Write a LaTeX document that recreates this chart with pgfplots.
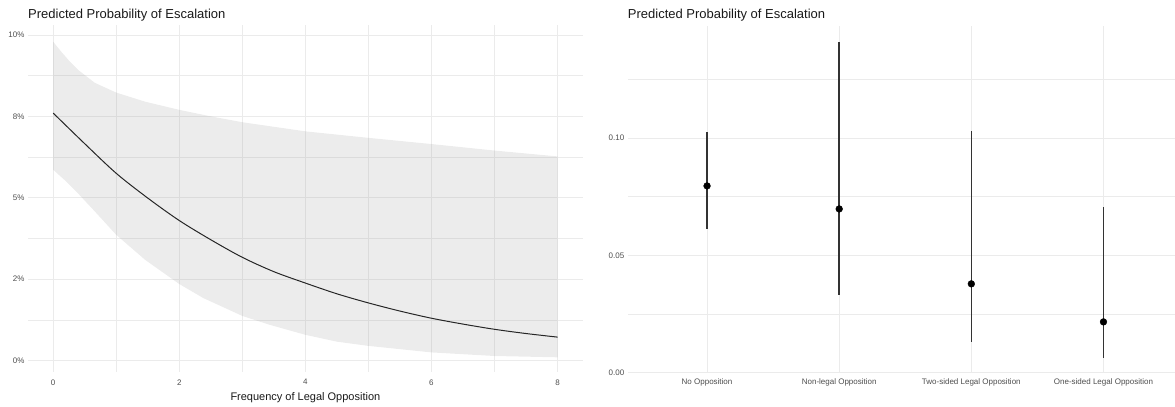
\documentclass[border=0pt]{standalone}
\usepackage{pgfplots}
\pgfplotsset{compat=1.18}
\usepackage{pgfplotstable}
\usepackage{fontspec}
\setmainfont{Liberation Sans}
\definecolor{gridc}{HTML}{EBEBEB}
\definecolor{tickc}{HTML}{4D4D4D}

% ribbon polygon: upper bound left->right, then lower bound right->left
\pgfplotstableread{
x y
0     0.0979
0.13  0.0948
0.265 0.0918
0.4   0.0892
0.66  0.0853
1     0.0823
1.46  0.0795
2     0.0770
2.5   0.0750
3     0.0732
3.5   0.0718
4     0.0704
5     0.0684
6     0.0665
7     0.0645
8     0.0627
8     0.0010
7     0.0014
6     0.0025
5     0.0045
4.5   0.0058
4     0.0079
3.43  0.0110
3     0.0137
2.38  0.0192
2     0.0235
1.46  0.0309
1     0.0386
0.66  0.0458
0.4   0.0512
0.2   0.0551
0     0.0586
}\ribbon

\pgfplotstableread{
x fit
0   0.0760
0.5 0.0666
1   0.0575
1.5 0.0499
2   0.0430
2.5 0.0371
3   0.0317
3.5 0.0273
4   0.0238
4.5 0.0205
5   0.0177
5.5 0.0152
6   0.0130
6.5 0.0112
7   0.0096
7.5 0.0083
8   0.0072
}\curve

\pgfplotsset{
  commonstyle/.style={
    scale only axis,
    axis line style={draw=none},
    major tick length=0pt,
    minor tick length=0pt,
    tick style={draw=none},
    grid=both,
    major grid style={gridc, line width=0.9pt},
    minor grid style={gridc, line width=0.5pt},
    ticklabel style={font=\fontsize{8}{9}\selectfont, text=tickc},
    /pgf/number format/assume math mode=true,
    title style={at={(axis description cs:0,1)}, anchor=base west, yshift=1pt,
                 font=\fontsize{13}{15}\selectfont, text=black!90, inner sep=0pt},
  }
}

\begin{document}
\begin{tikzpicture}
\path (0pt,0pt) rectangle (1175pt,404pt);

% Left panel
\begin{axis}[commonstyle,
  at={(28pt,31.9pt)}, anchor=south west,
  width=555pt, height=346.9pt,
  xmin=-0.4, xmax=8.4, ymin=-0.0035, ymax=0.103,
  xtick={0,2,4,6,8}, minor xtick={1,3,5,7},
  xticklabels={0,2,4,6,8},
  xticklabel style={yshift=-4pt},
  ytick={0,0.025,0.05,0.075,0.1},
  yticklabels={0\%,2\%,5\%,8\%,10\%},
  minor ytick={0.0125,0.0375,0.0625,0.0875},
  xlabel={Frequency of Legal Opposition},
  xlabel style={font=\fontsize{11}{13}\selectfont, text=black!90, yshift=-1pt},
  title={Predicted Probability of Escalation},
]
\addplot[draw=none, fill=gray, fill opacity=0.15] table[x=x, y=y] {\ribbon} -- cycle;
\addplot[black!85, line width=1pt, smooth] table[x=x, y=fit] {\curve};
\end{axis}

% Right panel
\begin{axis}[commonstyle,
  at={(628pt,31pt)}, anchor=south west,
  width=547pt, height=347pt,
  xmin=0.4, xmax=4.538, ymin=0, ymax=0.1477,
  xtick={1,2,3,4},
  xticklabels={No Opposition,Non-legal Opposition,Two-sided Legal Opposition,One-sided Legal Opposition},
  xticklabel style={yshift=-2pt},
  ytick={0,0.05,0.1},
  yticklabels={0.00,0.05,0.10},
  minor ytick={0.025,0.075,0.125},
  title={Predicted Probability of Escalation},
]
\addplot[draw=none, mark=none,
  error bars/.cd, y dir=both, y explicit,
  error mark=none,
  error bar style={black!80, line width=1.4pt}]
  coordinates {
    (1,0.0796) += (0,0.0231) -= (0,0.0185)
    (2,0.0698) += (0,0.0711) -= (0,0.0366)
    (3,0.0379) += (0,0.0651) -= (0,0.0247)
    (4,0.0217) += (0,0.0489) -= (0,0.0153)
  };
\addplot[only marks, mark=*, mark size=3.4pt, black]
  coordinates {(1,0.0796) (2,0.0698) (3,0.0379) (4,0.0217)};
\end{axis}
\end{tikzpicture}
\end{document}
